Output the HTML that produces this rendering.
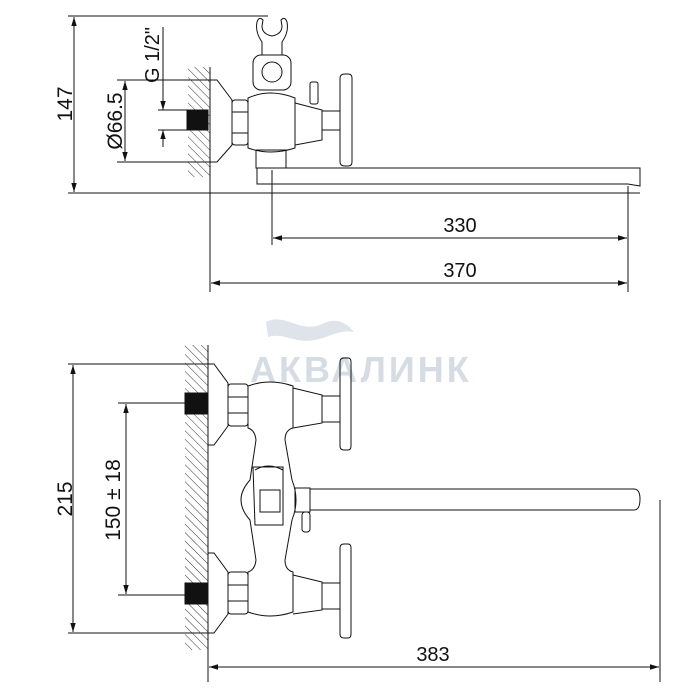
<!DOCTYPE html>
<html><head><meta charset="utf-8"><style>
html,body{margin:0;padding:0;background:#fff}
svg{display:block}
text{font-family:"Liberation Sans",sans-serif;fill:#111}
</style></head><body>
<svg width="700" height="700" viewBox="0 0 700 700" xmlns="http://www.w3.org/2000/svg">
<defs>
<marker id="a" viewBox="0 0 10 10" refX="10" refY="5" markerWidth="9" markerHeight="9" orient="auto-start-reverse" markerUnits="userSpaceOnUse"><path d="M0,2 L10,5 L0,8 z" fill="#111"/></marker>
<pattern id="h" width="6" height="6" patternUnits="userSpaceOnUse" patternTransform="rotate(-45)"><line x1="0" y1="0" x2="0" y2="6" stroke="#333" stroke-width="1"/></pattern>
</defs>
<!-- watermark -->
<path d="M266,322 C285,312 300,334 322,324 C336,317 346,322 354,332 C340,329 330,337 315,340 C295,344 283,332 268,337 Z" fill="#dfe4ea"/>
<text x="250" y="382" font-size="36" font-weight="bold" style="fill:#d6dce3" letter-spacing="3">АКВАЛИНК</text>

<g stroke="#111" stroke-width="1" fill="none">
<!-- TOP VIEW dims -->
<line x1="68" y1="16" x2="268" y2="16"/>
<line x1="68" y1="193" x2="640" y2="193"/>
<line x1="74" y1="17" x2="74" y2="192" marker-start="url(#a)" marker-end="url(#a)"/>
<line x1="117" y1="80" x2="215" y2="80"/>
<line x1="117" y1="162" x2="215" y2="162"/>
<line x1="125" y1="81" x2="125" y2="161" marker-start="url(#a)" marker-end="url(#a)"/>
<line x1="158" y1="110" x2="208" y2="110"/>
<line x1="158" y1="130" x2="208" y2="130"/>
<line x1="163" y1="27" x2="163" y2="110" marker-end="url(#a)"/>
<line x1="163" y1="147" x2="163" y2="130" marker-end="url(#a)"/>
<!-- wall top -->
<rect x="188" y="67" width="22" height="110" fill="url(#h)" stroke="none"/>
<line x1="210" y1="67" x2="210" y2="292"/>
<rect x="187" y="110" width="21" height="20" fill="#111"/>
<path d="M210,80 L217,80 L232,100 L232,145 L217,162 L210,162"/>
<rect x="232" y="100" width="16" height="45" rx="3"/>
<line x1="232" y1="112" x2="248" y2="112"/><line x1="232" y1="133" x2="248" y2="133"/>
<path d="M248,98 Q270,88 295,98 L295,148 Q270,156 248,148 Z"/>
<rect x="253" y="55" width="38" height="35" rx="8"/>
<circle cx="272" cy="72" r="10"/>
<path d="M262,55 L262,42 Q255,32 257,22 Q259,16 263,20 L262,26 Q262,34 272,36 Q282,34 282,26 L281,20 Q285,16 287,22 Q289,32 282,42 L282,55"/>
<path d="M295,103 L322,110 L322,140 L295,145"/>
<rect x="322" y="111" width="18" height="19"/>
<path d="M340,78 Q340,74 345,74 L348,74 Q352,74 352,78 L352,162 Q352,166 348,166 L345,166 Q340,166 340,162 Z"/>
<rect x="310" y="82" width="8" height="22" rx="2"/>
<rect x="256" y="150" width="30" height="18"/>
<path d="M257,168 L257,184 L628,184 L640,186 L640,168 L286,168"/>
<line x1="272" y1="170" x2="272" y2="245"/>
<line x1="628" y1="186" x2="628" y2="292"/>
<line x1="273" y1="238" x2="627" y2="238" marker-start="url(#a)" marker-end="url(#a)"/>
<line x1="211" y1="283" x2="627" y2="283" marker-start="url(#a)" marker-end="url(#a)"/>

<!-- BOTTOM VIEW -->
<line x1="68" y1="364" x2="210" y2="364"/>
<line x1="68" y1="633" x2="210" y2="633"/>
<line x1="73" y1="365" x2="73" y2="632" marker-start="url(#a)" marker-end="url(#a)"/>
<line x1="118" y1="403" x2="188" y2="403"/>
<line x1="118" y1="595" x2="188" y2="595"/>
<line x1="126" y1="404" x2="126" y2="594" marker-start="url(#a)" marker-end="url(#a)"/>
<rect x="185" y="345" width="23" height="305" fill="url(#h)" stroke="none"/>
<line x1="208" y1="345" x2="208" y2="682"/>
<rect x="185" y="393" width="22" height="21" fill="#111"/>
<rect x="185" y="583" width="22" height="21" fill="#111"/>
<path d="M208,364 L214,364 L228,383 L228,426 L214,445 L208,445"/>
<path d="M208,553 L214,553 L228,572 L228,614 L214,633 L208,633"/>
<rect x="228" y="384" width="20" height="42" rx="3"/>
<line x1="228" y1="397" x2="248" y2="397"/><line x1="228" y1="413" x2="248" y2="413"/>
<rect x="228" y="572" width="20" height="42" rx="3"/>
<line x1="228" y1="585" x2="248" y2="585"/><line x1="228" y1="601" x2="248" y2="601"/>
<path d="M248,386 Q270,378 293,386 L293,428 Q285,430 285,440 L292,480 Q300,500 292,520 L285,560 Q285,570 293,572 L293,612 Q270,620 248,612 L248,572 Q255,570 256,560 L250,520 Q232,500 250,480 L256,440 Q255,430 248,428 Z"/>
<path d="M293,388 L322,395 L322,423 L293,428"/>
<rect x="322" y="396" width="18" height="26"/>
<path d="M340,362 Q340,358 344,358 L348,358 Q351,358 351,362 L351,446 Q351,450 348,450 L344,450 Q340,450 340,446 Z"/>
<path d="M293,575 L322,582 L322,610 L293,614"/>
<rect x="322" y="583" width="18" height="26"/>
<path d="M340,548 Q340,544 344,544 L348,544 Q351,544 351,548 L351,634 Q351,638 348,638 L344,638 Q340,638 340,634 Z"/>
<path d="M253,467 L283,467 L283,525 L255,525 Z"/>
<path d="M255,470 Q268,462 283,470"/>
<rect x="260" y="490" width="20" height="22"/>
<rect x="295" y="488" width="15" height="24"/>
<rect x="302" y="512" width="8" height="20" rx="3"/>
<path d="M310,489 L634,489 Q640,489 640,499 Q640,510 634,510 L310,510"/>
<line x1="660" y1="500" x2="660" y2="682"/>
<line x1="209" y1="667" x2="659" y2="667" marker-start="url(#a)" marker-end="url(#a)"/>
</g>

<text font-size="21" transform="translate(72,104) rotate(-90)" text-anchor="middle">147</text>
<text font-size="21" transform="translate(122,121) rotate(-90)" text-anchor="middle">Ø66.5</text>
<text font-size="20" transform="translate(159,55) rotate(-90)" text-anchor="middle">G 1/2"</text>
<text font-size="20" x="460" y="232" text-anchor="middle">330</text>
<text font-size="20" x="460" y="277" text-anchor="middle">370</text>
<text font-size="21" transform="translate(72,499) rotate(-90)" text-anchor="middle">215</text>
<text font-size="21" transform="translate(120,500) rotate(-90)" text-anchor="middle">150 ± 18</text>
<text font-size="20" x="433" y="661" text-anchor="middle">383</text>
</svg>
</body></html>
